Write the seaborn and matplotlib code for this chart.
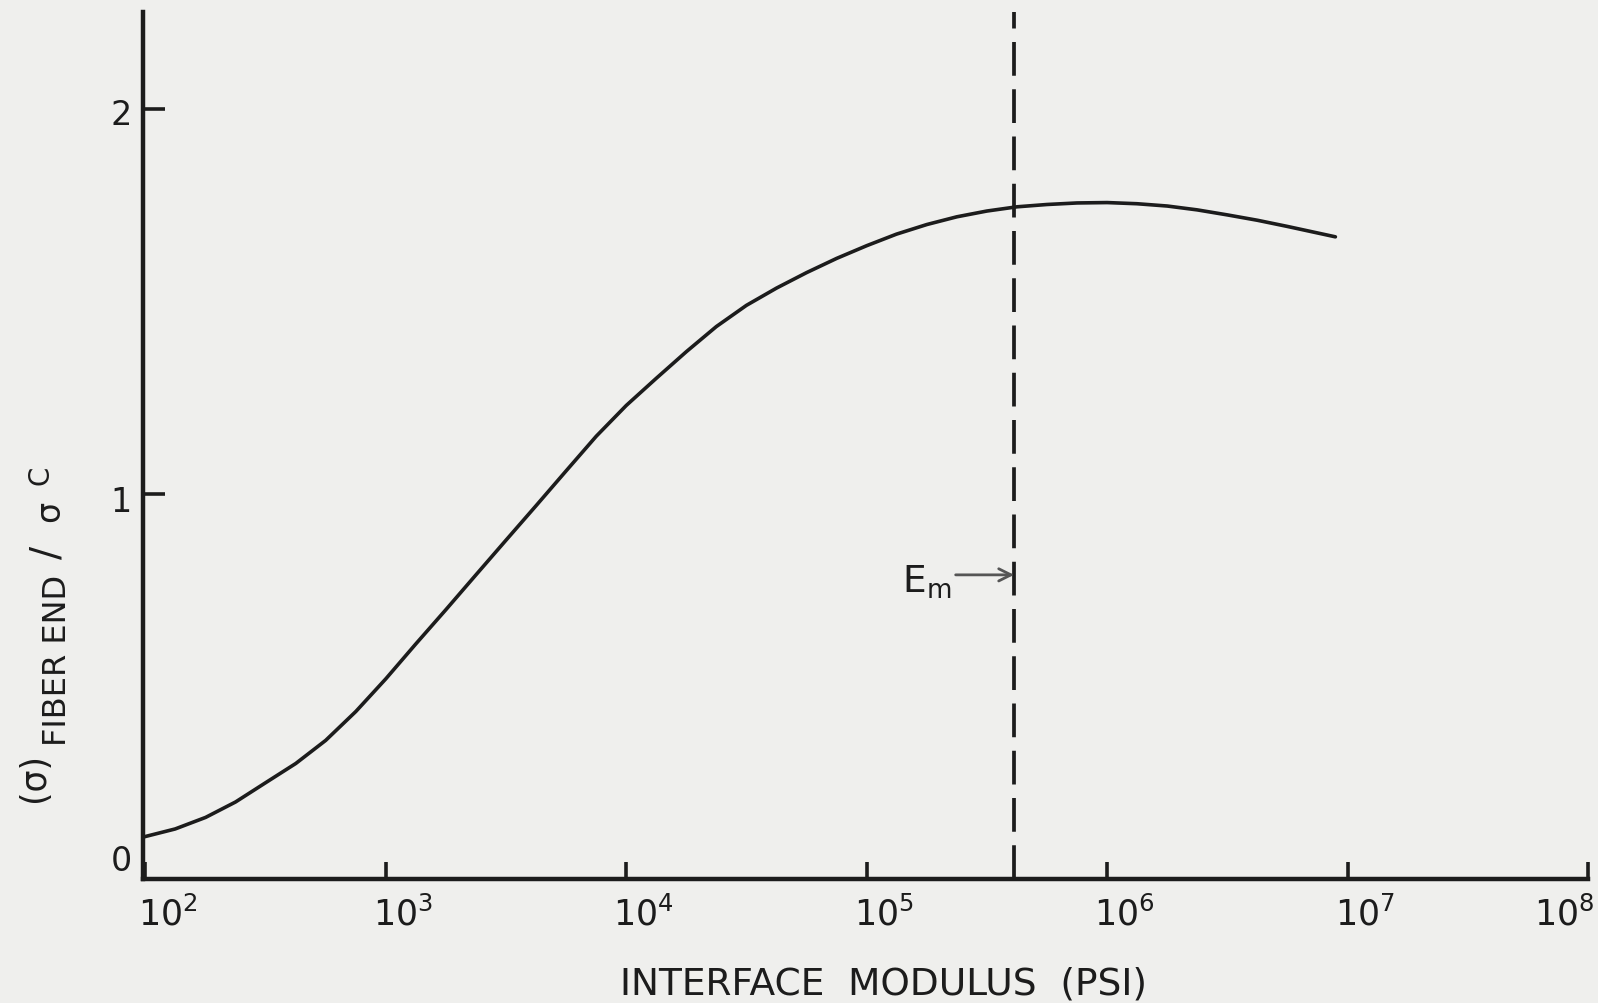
import numpy as np
import pandas as pd
import matplotlib
matplotlib.use("Agg")
import matplotlib.pyplot as plt
import matplotlib.transforms as mtransforms
import seaborn as sns

# Data (interface modulus in psi, stress ratio)
modulus = [98, 133, 178, 237, 316, 422, 562, 750, 1000, 1330,
           1780, 2370, 3160, 4220, 5620, 7500, 10000, 13300, 17800, 23700,
           31600, 42200, 56200, 75000, 100000, 133000, 178000, 237000, 316000,
           422000, 562000, 750000, 1000000, 1330000, 1780000, 2370000,
           3160000, 4220000, 5620000, 8900000]
stress_ratio = [0.109, 0.13, 0.16, 0.20, 0.25, 0.30, 0.36, 0.435, 0.52, 0.61,
                0.70, 0.79, 0.88, 0.97, 1.06, 1.15, 1.23, 1.30, 1.37, 1.435,
                1.49, 1.535, 1.575, 1.612, 1.645, 1.675, 1.70, 1.72, 1.735,
                1.746, 1.752, 1.756, 1.757, 1.754, 1.748, 1.738, 1.725, 1.711,
                1.695, 1.668]
x_ticks = [1e2, 1e3, 1e4, 1e5, 1e6, 1e7, 1e8]
x_tick_labels = [r"$\mathregular{10^{2}}$", r"$\mathregular{10^{3}}$",
                 r"$\mathregular{10^{4}}$", r"$\mathregular{10^{5}}$",
                 r"$\mathregular{10^{6}}$", r"$\mathregular{10^{7}}$",
                 r"$\mathregular{10^{8}}$"]
y_ticks = [0, 1, 2]
y_tick_labels = ["0", "1", "2"]
x_label = "INTERFACE  MODULUS  (PSI)"
E_m = 4.1e5
E_m_label_y = 0.79

sns.set_theme(style="ticks")
plt.rcParams["font.family"] = ["DejaVu Sans"]
plt.rcParams["mathtext.fontset"] = "dejavusans"

ink = "#1c1c1c"
paper = "#efefed"
W, H = 1598, 1004

fig = plt.figure(figsize=(W / 100, H / 100), dpi=100, facecolor=paper)
ax = fig.add_axes([143 / W, 1 - 880 / H, (1588 - 143) / W, (880 - 13) / H])
ax.set_facecolor(paper)

df = pd.DataFrame({"modulus": modulus, "ratio": stress_ratio})
sns.lineplot(data=df, x="modulus", y="ratio", ax=ax, color=ink, linewidth=2.6,
             estimator=None, sort=True)

ax.set_xscale("log")
ax.set_xlim(10 ** 1.99, 1e8)
ax.set_ylim(0, 2.252)

ax.axvline(E_m, color=ink, linewidth=2.7, linestyle=(0, (9, 3.6)))
ax.annotate("", xy=(E_m, E_m_label_y), xytext=(10 ** 5.37, E_m_label_y),
            arrowprops=dict(arrowstyle="->", color="#555555", lw=2.0,
                            mutation_scale=22, shrinkA=0, shrinkB=0))
ax.text(10 ** 5.35, E_m_label_y - 0.045, r"$\mathrm{E_m}$", ha="right",
        va="baseline", fontsize=27, color=ink)

ax.set_xticks(x_ticks)
ax.set_xticklabels(x_tick_labels, fontsize=25, color=ink)
ax.xaxis.set_minor_locator(matplotlib.ticker.NullLocator())
ax.set_yticks(y_ticks)
ax.set_yticklabels(y_tick_labels, fontsize=24, color=ink)
ax.tick_params(axis="x", direction="in", length=12, width=2.6, color=ink, pad=12)
ax.tick_params(axis="y", direction="in", length=16, width=2.6, color=ink, pad=8)

# shift tick labels like the hand-lettered original
x_shift_px = [22, 17, 17, 17, 17, 17, -24]
for lab, dx in zip(ax.get_xticklabels(), x_shift_px):
    lab.set_transform(lab.get_transform() +
                      mtransforms.ScaledTranslation(dx / 100, 0, fig.dpi_scale_trans))
y_shift_px = [22, -4, -2]
for lab, dy in zip(ax.get_yticklabels(), y_shift_px):
    lab.set_transform(lab.get_transform() +
                      mtransforms.ScaledTranslation(0, dy / 100, fig.dpi_scale_trans))

for s in ["top", "right"]:
    ax.spines[s].set_visible(False)
for s in ["left", "bottom"]:
    ax.spines[s].set_linewidth(3.2)
    ax.spines[s].set_color(ink)

ax.set_xlabel(x_label, fontsize=27, color=ink)
ax.xaxis.set_label_coords((883 - 143) / (1588 - 143), (880 - 985) / 867)
ax.xaxis.label.set_va("center")
ax.set_ylabel("")

# y label assembled from pieces, as lettered in the original
def ytext(xc, yc, s, size):
    fig.text(xc / W, 1 - yc / H, s, rotation=90, ha="center", va="center",
             fontsize=size, color=ink, family=["DejaVu Sans"])

ytext(34, 778, "(σ)", 25)
ytext(58, 660, "FIBER END", 23)
ytext(47, 552, "/", 28)
ytext(50, 511, "σ", 24)
ytext(41, 475, "C", 20)

fig.savefig("out.png", dpi=100, facecolor=paper)
